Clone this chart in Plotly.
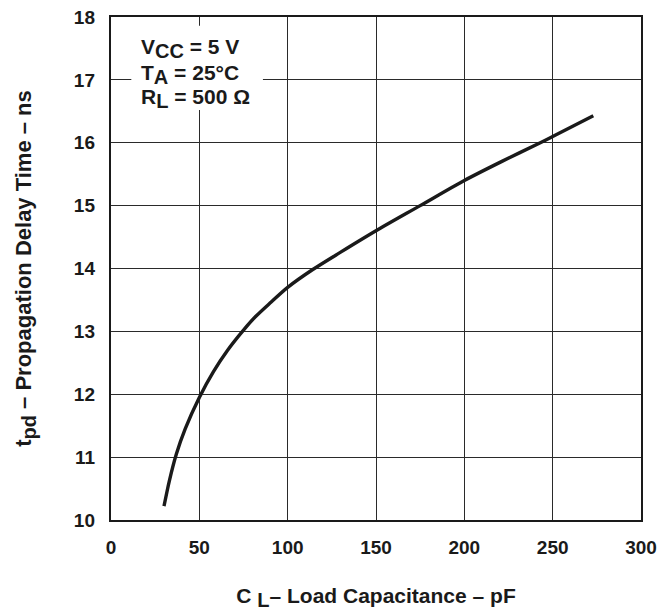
import plotly.graph_objects as go

# Load capacitance (pF) and propagation delay (ns)
cap_pf = [30, 33, 37, 42, 50, 58, 66, 75, 82, 90, 100, 114, 130, 150, 175, 200, 221, 243, 250, 273]
tpd_ns = [10.22, 10.62, 11.05, 11.45, 11.95, 12.36, 12.70, 13.02, 13.24, 13.45, 13.70, 13.98,
          14.26, 14.60, 15.00, 15.40, 15.70, 16.00, 16.10, 16.43]

x_ticks = [0, 50, 100, 150, 200, 250, 300]
y_ticks = [10, 11, 12, 13, 14, 15, 16, 17, 18]

SUB = "<sub><span style='font-size:{s}px'>{t}</span></sub>"

cond_lines = [
    "V" + SUB.format(s=20, t="CC") + " = 5 V",
    "T" + SUB.format(s=20, t="A") + " = 25°C",
    "R" + SUB.format(s=20, t="L") + " = 500 Ω",
]

x_title = "C " + SUB.format(s=20, t="L") + "– Load Capacitance – pF"
y_title = "t" + SUB.format(s=20, t="pd") + " – Propagation Delay Time – ns"

FONT = "Liberation Sans, Arial, sans-serif"
INK = "#1a1a1a"

fig = go.Figure()
fig.add_trace(go.Scatter(
    x=cap_pf, y=tpd_ns, mode="lines",
    line=dict(color=INK, width=3.4, shape="spline", smoothing=0.8),
    showlegend=False, hoverinfo="skip",
))

# white box behind the test conditions (hides grid lines)
fig.add_shape(type="rect", xref="x", yref="y", x0=11.5, x1=86, y0=16.52, y1=17.86,
              fillcolor="white", line=dict(width=0), layer="above")

cond_y = [17.5, 17.08, 16.7]
for txt, yy in zip(cond_lines, cond_y):
    fig.add_annotation(x=16, y=yy, xref="x", yref="y", text=txt, showarrow=False,
                       xanchor="left", yanchor="middle",
                       font=dict(family=FONT, size=21, color=INK, weight=700))

axis_common = dict(
    showgrid=True, gridcolor="#2a2a2a", gridwidth=1,
    showline=True, linecolor=INK, linewidth=2.4, mirror=True,
    zeroline=False, ticks="",
    tickfont=dict(family=FONT, size=19, color=INK, weight=700),
)

fig.update_xaxes(
    range=[0, 300], tickvals=x_ticks, ticktext=[str(v) for v in x_ticks],
    title=dict(text=x_title, standoff=34,
               font=dict(family=FONT, size=21, color=INK, weight=700)),
    ticklabelstandoff=9,
    **axis_common,
)
fig.update_yaxes(
    range=[10, 18], tickvals=y_ticks, ticktext=[str(v) for v in y_ticks],
    title=dict(text=y_title, standoff=36,
               font=dict(family=FONT, size=22, color=INK, weight=700)),
    ticklabelstandoff=10,
    **axis_common,
)

fig.update_layout(
    width=663, height=611,
    margin=dict(l=111, r=22, t=17, b=91, autoexpand=False),
    paper_bgcolor="white", plot_bgcolor="white",
    font=dict(family=FONT, color=INK),
)

fig.write_html("out.html", config={"displayModeBar": False},
               post_script="document.body.style.margin='0';document.body.style.overflow='hidden';")
